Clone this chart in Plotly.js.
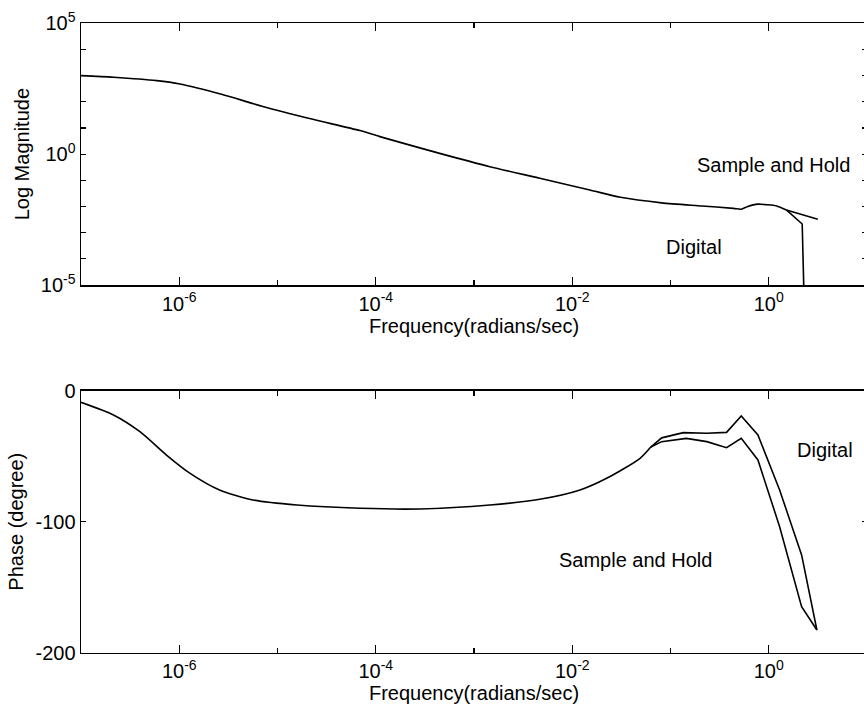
<!DOCTYPE html>
<html>
<head>
<meta charset="utf-8">
<script src="https://cdn.plot.ly/plotly-3.0.1.min.js"></script>
<style>
html, body { margin: 0; padding: 0; overflow: hidden; background: #fff; }
#chart { width: 867px; height: 717px; }
</style>
</head>
<body>
<div id="chart"></div>
<script>
// ---- Data ----
// Magnitude: frequencies (rad/s) and magnitudes
const magFreqShared = [1e-7, 2.14e-7, 5.9e-7, 1.02e-6, 2.69e-6, 7.24e-6, 2.29e-5, 6.9e-5, 1.1e-4, 4.47e-4, 1.45e-3, 4.68e-3, 0.0151, 0.0309, 0.0813, 0.209, 0.437, 0.525, 0.603, 0.776, 0.955, 1.20, 1.51];
const magShared = [1000, 871, 646, 479, 195, 64.6, 21.4, 7.94, 4.68, 1.07, 0.331, 0.120, 0.0427, 0.0224, 0.0138, 0.0105, 0.0085, 0.0079, 0.0098, 0.0123, 0.0117, 0.0105, 0.0074];
const magFreqSH = [1.51, 3.16];
const magSH = [0.0074, 0.00324];
const magFreqDig = [1.51, 2.19, 2.34];
const magDig = [0.0074, 0.00214, 1e-7];

// Phase: frequencies (rad/s) and phase (degrees)
const phFreqShared = [1e-7, 2.14e-7, 3.98e-7, 7.41e-7, 1.29e-6, 2.57e-6, 5.62e-6, 1.58e-5, 6.92e-5, 2.82e-4, 1.45e-3, 4.68e-3, 0.0120, 0.0224, 0.049, 0.063];
const phShared = [-8.9, -18.5, -31.3, -49.1, -63.1, -75.8, -83.4, -87.3, -89.8, -90.3, -87.3, -82.9, -75.8, -66.9, -51.6, -43];
const phFreqDig = [0.063, 0.0813, 0.135, 0.234, 0.372, 0.525, 0.776, 1.29, 2.16, 3.09];
const phDig = [-43, -36, -32, -32.5, -31.8, -19.3, -33.8, -75.8, -125.4, -182.7];
const phFreqSH = [0.063, 0.0813, 0.145, 0.234, 0.372, 0.525, 0.776, 1.29, 2.16, 3.09];
const phSH = [-43, -38.9, -36.4, -38.9, -43.5, -36.4, -52.9, -103.8, -164.9, -182.7];

const xTickVals = [1e-6, 1e-4, 1e-2, 1e0];
const xTickText = ['10<sup>-6</sup>', '10<sup>-4</sup>', '10<sup>-2</sup>', '10<sup>0</sup>'];
const xMinorVals = [1e-7, 1e-5, 1e-3, 1e-1, 1e1];
const magTickVals = [1e-5, 1e0, 1e5];
const magTickText = ['10<sup>-5</sup>', '10<sup>0</sup>', '10<sup>5</sup>'];
const magMinorVals = [1e-4, 1e-3, 1e-2, 1e-1, 1e1, 1e2, 1e3, 1e4];
const phTickVals = [0, -100, -200];
const phTickText = ['0', '-100', '-200'];

// ---- Build traces ----
const smooth = { color: '#000', width: 1.6, shape: 'spline', smoothing: 0.7 };
const straight = { color: '#000', width: 1.6 };
const traces = [
  { x: magFreqShared, y: magShared, xaxis: 'x', yaxis: 'y', mode: 'lines', line: smooth, name: 'Both' },
  { x: magFreqSH, y: magSH, xaxis: 'x', yaxis: 'y', mode: 'lines', line: straight, name: 'Sample and Hold' },
  { x: magFreqDig, y: magDig, xaxis: 'x', yaxis: 'y', mode: 'lines', line: straight, name: 'Digital' },
  { x: phFreqShared, y: phShared, xaxis: 'x2', yaxis: 'y2', mode: 'lines', line: smooth, name: 'Both' },
  { x: phFreqDig, y: phDig, xaxis: 'x2', yaxis: 'y2', mode: 'lines', line: straight, name: 'Digital' },
  { x: phFreqSH, y: phSH, xaxis: 'x2', yaxis: 'y2', mode: 'lines', line: straight, name: 'Sample and Hold' }
];

const font = { family: '"Liberation Sans", Arial, sans-serif', size: 20, color: '#000' };
const minorStyle = { ticks: 'inside', ticklen: 5, tickwidth: 1.2, tickcolor: '#000', showgrid: false };
const axisCommon = {
  showline: true, linecolor: '#000', linewidth: 1.5, mirror: 'ticks',
  ticks: 'inside', ticklen: 8, tickwidth: 1.2, tickcolor: '#000',
  showgrid: false, zeroline: false, tickfont: font
};

const layout = {
  width: 867, height: 717,
  margin: { l: 81, r: 0, t: 0, b: 0 },
  paper_bgcolor: '#fff', plot_bgcolor: '#fff',
  showlegend: false,
  font: font,
  xaxis: Object.assign({}, axisCommon, {
    type: 'log', range: [-7, 1], domain: [0, 1], anchor: 'y',
    tickmode: 'array', tickvals: xTickVals, ticktext: xTickText,
    minor: Object.assign({ tickmode: 'array', tickvals: xMinorVals }, minorStyle),
    title: { text: 'Frequency(radians/sec)', font: font, standoff: 3 }
  }),
  yaxis: Object.assign({}, axisCommon, {
    type: 'log', range: [-5, 5], domain: [0.6025, 0.9675], anchor: 'x', ticklen: 5,
    tickmode: 'array', tickvals: magTickVals, ticktext: magTickText,
    minor: Object.assign({ tickmode: 'array', tickvals: magMinorVals }, minorStyle),
    title: { text: 'Log Magnitude', font: font, standoff: 6 }
  }),
  xaxis2: Object.assign({}, axisCommon, {
    type: 'log', range: [-7, 1], domain: [0, 1], anchor: 'y2',
    tickmode: 'array', tickvals: xTickVals, ticktext: xTickText,
    minor: Object.assign({ tickmode: 'array', tickvals: xMinorVals }, minorStyle),
    title: { text: 'Frequency(radians/sec)', font: font, standoff: 3 }
  }),
  yaxis2: Object.assign({}, axisCommon, {
    range: [-200, 0], domain: [0.0897, 0.4551], anchor: 'x2', ticklen: 5,
    tickmode: 'array', tickvals: phTickVals, ticktext: phTickText,
    title: { text: 'Phase (degree)', font: font, standoff: 6 }
  }),
  annotations: [
    { xref: 'x', yref: 'y', x: 0.048, y: -0.41, text: 'Sample and Hold', showarrow: false, xanchor: 'center', yanchor: 'middle', font: font },
    { xref: 'x', yref: 'y', x: -0.756, y: -3.54, text: 'Digital', showarrow: false, xanchor: 'center', yanchor: 'middle', font: font },
    { xref: 'x2', yref: 'y2', x: 0.572, y: -45.3, text: 'Digital', showarrow: false, xanchor: 'center', yanchor: 'middle', font: font },
    { xref: 'x2', yref: 'y2', x: -1.36, y: -129, text: 'Sample and Hold', showarrow: false, xanchor: 'center', yanchor: 'middle', font: font }
  ]
};

Plotly.newPlot('chart', traces, layout, { displayModeBar: false, staticPlot: true });
</script>
</body>
</html>
